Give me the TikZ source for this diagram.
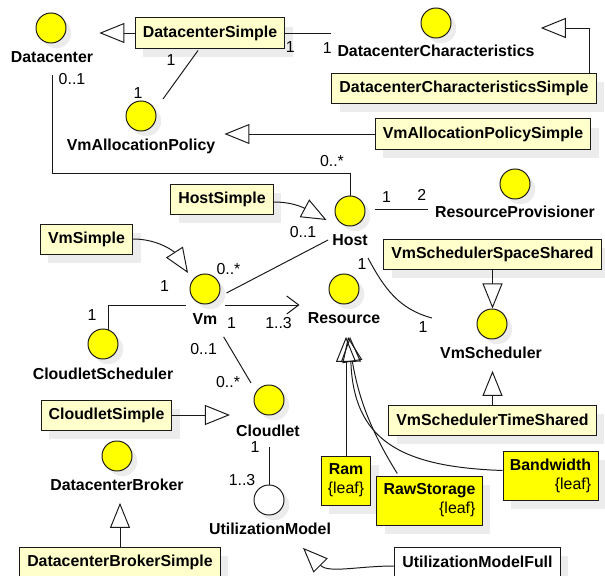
\documentclass[tikz,border=0pt]{standalone}
\usepackage{fontspec}
\setmainfont{Liberation Sans}
\usetikzlibrary{positioning,calc,shadows,arrows.meta}
\usepackage{xcolor}
\definecolor{ifaceyellow}{HTML}{FFFF00}
\definecolor{classcream}{HTML}{FFFFCC}
\definecolor{linegray}{HTML}{1A1A1A}
\definecolor{shadowgray}{HTML}{ECECEC}
\newcommand{\diagfont}{\fontsize{11.3}{13.6}\selectfont}

\tikzset{
  softshadow/.style={drop shadow={shadow xshift=0.2cm, shadow yshift=-0.22cm,
    fill=shadowgray, draw=none, opacity=1}},
  iface/.style={circle, draw=linegray, fill=ifaceyellow, line width=0.7pt,
    minimum size=0.75cm, inner sep=0pt,
    drop shadow={shadow xshift=0.13cm, shadow yshift=-0.13cm,
      fill=shadowgray, draw=none, opacity=1}},
  ifname/.style={font=\diagfont\bfseries, inner sep=0pt,
    text height=8.5pt, text depth=2.3pt},
  implbox/.style={draw=linegray, fill=classcream, line width=0.7pt,
    font=\diagfont\bfseries, minimum height=0.75cm, inner xsep=0.19cm,
    softshadow},
  leafbox/.style={draw=linegray, fill=ifaceyellow, line width=0.7pt,
    font=\diagfont, align=right, inner xsep=0.17cm,
    minimum height=1.225cm, softshadow},
  mult/.style={font=\diagfont, inner sep=0pt},
  assoc/.style={draw=linegray, line width=0.7pt},
  realize/.style={assoc, -{Triangle[open, length=0.625cm, width=0.5cm]}},
  navig/.style={assoc, -{Straight Barb[length=0.3cm, width=0.45cm]}}
}

\begin{document}
\begin{tikzpicture}[x=0.025cm, y=-0.025cm]
  \useasboundingbox (0,0) rectangle (605,576);

  % Interfaces
  \node[iface] (dc)  at (51,28) {};
  \node[ifname] (dcLbl) at (52,58) {Datacenter};
  \node[iface] (dcc) at (436,23) {};
  \node[ifname] (dccLbl) at (436,52) {DatacenterCharacteristics};
  \node[iface] (vap) at (141,116) {};
  \node[ifname] (vapLbl) at (141,146) {VmAllocationPolicy};
  \node[iface] (host) at (350,211) {};
  \node[ifname] (hostLbl) at (350,241) {Host};
  \node[iface] (rp) at (515,184) {};
  \node[ifname] (rpLbl) at (515,213) {ResourceProvisioner};
  \node[iface] (vs) at (492,324) {};
  \node[ifname] (vsLbl) at (491,354) {VmScheduler};
  \node[iface] (res) at (344,289) {};
  \node[ifname] (resLbl) at (344,319) {Resource};
  \node[iface] (vm) at (205,289) {};
  \node[ifname] (vmLbl) at (205,320) {Vm};
  \node[iface] (cs) at (103,344) {};
  \node[ifname] (csLbl) at (103,375) {CloudletScheduler};
  \node[iface] (cl) at (269,400) {};
  \node[ifname] (clLbl) at (268,432) {Cloudlet};
  \node[iface] (db) at (117,456) {};
  \node[ifname] (dbLbl) at (117,486) {DatacenterBroker};
  \node[iface, fill=white] (um) at (269,500) {};
  \node[ifname] (umLbl) at (270,530) {UtilizationModel};

  % Implementations
  \node[implbox] (dcs)  at (210,33)    {DatacenterSimple};
  \node[implbox] (dccs) at (464,88.5)  {DatacenterCharacteristicsSimple};
  \node[implbox] (vaps) at (483,134)   {VmAllocationPolicySimple};
  \node[implbox] (hs)   at (222,199)   {HostSimple};
  \node[implbox] (vsss) at (492.5,254.5) {VmSchedulerSpaceShared};
  \node[implbox] (vsts) at (492.5,420) {VmSchedulerTimeShared};
  \node[implbox] (vms)  at (86.5,239)  {VmSimple};
  \node[implbox] (cls)  at (106.5,415) {CloudletSimple};
  \node[implbox] (dbs)  at (120,562)   {DatacenterBrokerSimple};
  \node[implbox, fill=white] (umf) at (477.5,562) {UtilizationModelFull};

  % Leaf resources
  \node[leafbox, align=center, minimum width=1.2cm] (ram) at (346,480.5)
        {\textbf{Ram}\\\{leaf\}};
  \node[leafbox, minimum width=2.625cm] (raw) at (429.5,500.5)
        {\textbf{RawStorage}\\\{leaf\}};
  \node[leafbox, minimum width=2.375cm] (bw) at (550.5,475.5)
        {\textbf{Bandwidth}\\\{leaf\}};

  % Realizations
  \draw[realize] (dcs.west) -- ($(dcs.west -| dcLbl.east)+(6,0)$);
  \draw[realize] ([xshift=-0.18cm]dccs.north east) |- ($(dccLbl.east |- dcc.east)+(6,5)$);
  \draw[realize] (vaps.west) -- ($(vaps.west -| vapLbl.east)+(9,0)$);
  \draw[realize] ($(hs.east)+(0,3)$) to[out=0, in=152] ($(host.west)+(-8,9)$);
  \draw[realize] (vms.east) to[out=0, in=123] ($(vm.north west)+(-6,-5)$);
  \draw[realize] (vsss.south) -- (vsss.south |- vs.north);
  \draw[realize] (vsts.north) -- ($(vsts.north |- vsLbl.south)+(0,9)$);
  \draw[realize] (cls.east) -- ($(cls.east -| clLbl.west)+(-6,0)$);
  \draw[realize] (dbs.north) -- ($(dbs.north |- dbLbl.south)+(0,9)$);
  \draw[realize] ($(umf.west)+(0,4)$) to[out=180, in=-45] ($(umLbl.south)+(33,10)$);
  \draw[realize] (ram.north) -- ($(ram.north |- resLbl.south)+(0,10)$);
  \draw[realize] ($(raw.north west)+(21,-2)$) to[out=122, in=-80] ($(resLbl.south)+(4,10)$);
  \draw[realize] ($(bw.west)+(0,-5)$) to[out=178, in=-88, looseness=1.3] ($(resLbl.south)+(6,10)$);

  % Associations
  \draw[assoc] (dcs.east) -- node[mult, pos=0, shift={(5,14)}] (m1) {1}
        node[mult, pos=1, shift={(-4,15)}] (m2) {1} ($(dcs.east -| dccLbl.west)+(-6,0)$);
  \draw[assoc] ($(dcs.south)+(-12,2)$) -- node[mult, pos=0, shift={(-27,10)}] (m3) {1}
        node[mult, pos=1, shift={(-25,-6)}] (m4) {1} ($(vap.north east)+(11,-6)$);
  \draw[assoc] ($(dcLbl.south)+(0,9)$) |- node[mult, pos=0, shift={(20,4)}] (m5) {0..1}
        node[mult, pos=1, shift={(-18,-12)}] (m6) {0..*} ($(host.north)+(0,-22)$) -- (host.north);
  \draw[assoc] ($(vm.east)+(6,4)$) -- node[mult, pos=0, shift={(2,-24)}] (m7) {0..*}
        node[mult, pos=1, shift={(-25,-8)}] (m8) {0..1} ($(hostLbl.west)+(-4,-1)$);
  \draw[assoc] ($(host.east)+(9,-2)$) -- node[mult, pos=0, shift={(12,-12)}] (m9) {1}
        node[mult, pos=1, shift={(-6,-14)}] (m10) {2} ($(host.east -| rpLbl.west)+(-7,-2)$);
  \draw[assoc] ($(hostLbl.south east)+(0,9)$) to[out=-62, in=165]
        node[mult, pos=0, shift={(-6,6)}] (m11) {1}
        node[mult, pos=1, shift={(-9,9)}] (m12) {1} ($(vs.west -| vsLbl.west)+(-8,-6)$);
  \draw[navig] ($(vm.east)+(5,16)$) -- node[mult, pos=0, shift={(6,18)}] (m13) {1}
        node[mult, pos=1, shift={(-21,18)}] (m14) {1..3} ($(vm.east -| resLbl.west)+(-8,16)$);
  \draw[assoc] ($(vm.west)+(-4,16)$) -| node[mult, pos=0, shift={(-21,-19)}] (m15) {1}
        node[mult, pos=1, shift={(-16,-14)}] (m16) {1} ($(cs.north)+(5,1)$);
  \draw[assoc] ($(vmLbl.south east)+(6,9)$) -- node[mult, pos=0, shift={(-20,12)}] (m17) {0..1}
        node[mult, pos=1, shift={(-23,-1)}] (m18) {0..*} ($(cl.north west)+(-7,-6)$);
  \draw[assoc] ($(clLbl.south)+(1,7)$) -- node[mult, pos=0, shift={(-14,0)}] (m19) {1}
        node[mult, pos=1, shift={(-27,-4)}] (m20) {1..3} (um.north);
\end{tikzpicture}
\end{document}
